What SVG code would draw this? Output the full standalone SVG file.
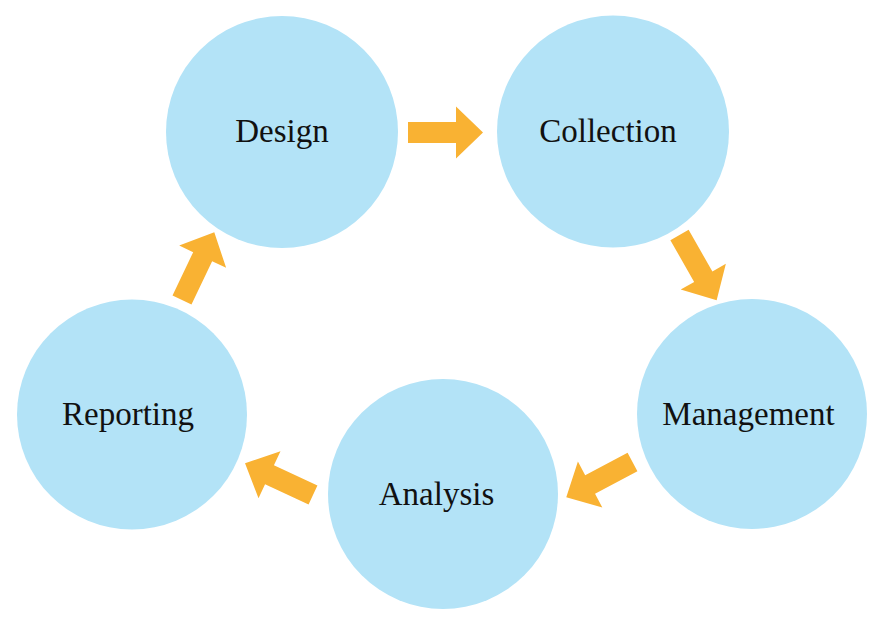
<svg xmlns="http://www.w3.org/2000/svg" width="886" height="628" viewBox="0 0 886 628">
<defs>
<style>
.node circle{fill:#B3E3F7;}
.node text{font-family:"Liberation Serif","Times New Roman",serif;font-size:33px;fill:#111;text-anchor:middle;}
.arrow{fill:#F9B233;}
</style>
<polygon id="arr" points="0,-10.5 48,-10.5 48,-26 75,0 48,26 48,10.5 0,10.5"/>
</defs>
<rect width="886" height="628" fill="#fff"/>
<g id="connectors" class="arrow">
<use href="#arr" transform="translate(408,132.5)"/>
<use href="#arr" transform="translate(679.5,235) rotate(60.3)"/>
<use href="#arr" transform="translate(632.5,462) rotate(152)"/>
<use href="#arr" transform="translate(313,495) rotate(205)"/>
<use href="#arr" transform="translate(182,300) rotate(-64.5)"/>
</g>
<g id="design" class="node"><circle cx="282" cy="132" r="116"/><text x="282" y="142">Design</text></g>
<g id="collection" class="node"><circle cx="613" cy="131.5" r="116"/><text x="608" y="142">Collection</text></g>
<g id="management" class="node"><circle cx="752" cy="414" r="115"/><text x="748.5" y="425">Management</text></g>
<g id="analysis" class="node"><circle cx="443" cy="494" r="115"/><text x="436.5" y="505">Analysis</text></g>
<g id="reporting" class="node"><circle cx="132" cy="414.5" r="115"/><text x="128" y="425">Reporting</text></g>
</svg>
